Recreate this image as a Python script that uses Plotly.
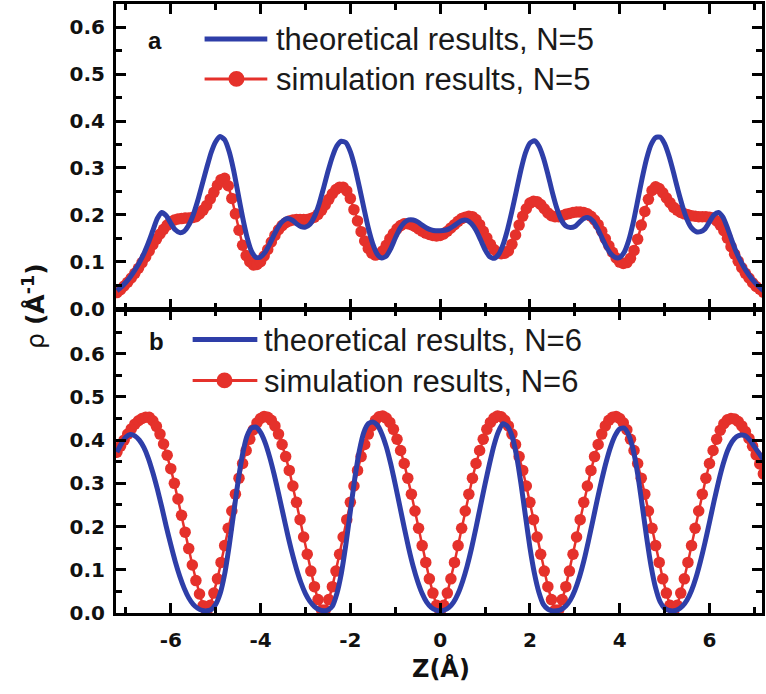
import plotly.graph_objects as go

# ---------------- data ----------------
z_theory = [round(-7.2 + 0.1 * i, 2) for i in range(145)]   # Z (Å), theory curves
z_sim = [round(-7.2 + 0.08 * i, 2) for i in range(181)]     # Z (Å), simulation points

rho_theory_N5 = [
    0.038, 0.046, 0.056, 0.068, 0.082, 0.098, 0.117, 0.140, 0.166, 0.192,
    0.205, 0.198, 0.182, 0.168, 0.162, 0.165, 0.178, 0.200, 0.230, 0.265,
    0.300, 0.333, 0.356, 0.367, 0.360, 0.335, 0.295, 0.245, 0.195, 0.152,
    0.122, 0.109, 0.110, 0.120, 0.137, 0.157, 0.175, 0.187, 0.192, 0.189,
    0.181, 0.175, 0.174, 0.180, 0.196, 0.222, 0.256, 0.292, 0.324, 0.347,
    0.357, 0.354, 0.335, 0.302, 0.260, 0.215, 0.172, 0.138, 0.116, 0.108,
    0.112, 0.128, 0.150, 0.170, 0.183, 0.189, 0.189, 0.185, 0.178, 0.172,
    0.168, 0.166, 0.166, 0.167, 0.170, 0.176, 0.183, 0.188, 0.188, 0.181,
    0.167, 0.147, 0.126, 0.111, 0.107, 0.115, 0.136, 0.168, 0.208, 0.252,
    0.296, 0.332, 0.353, 0.358, 0.347, 0.322, 0.287, 0.248, 0.214, 0.189,
    0.176, 0.173, 0.175, 0.184, 0.192, 0.194, 0.187, 0.172, 0.152, 0.132,
    0.117, 0.109, 0.109, 0.120, 0.145, 0.183, 0.230, 0.278, 0.320, 0.350,
    0.365, 0.366, 0.352, 0.325, 0.290, 0.252, 0.218, 0.190, 0.172, 0.164,
    0.164, 0.170, 0.185, 0.200, 0.205, 0.195, 0.172, 0.145, 0.120, 0.100,
    0.083, 0.069, 0.057, 0.047, 0.038,
]

rho_sim_N5 = [
    0.034, 0.040, 0.048, 0.056, 0.065, 0.075, 0.086, 0.098, 0.110, 0.123,
    0.136, 0.148, 0.159, 0.169, 0.178, 0.185, 0.189, 0.191, 0.192, 0.193,
    0.193, 0.194, 0.196, 0.202, 0.210, 0.220, 0.234, 0.248, 0.263, 0.275,
    0.278, 0.262, 0.235, 0.202, 0.167, 0.135, 0.113, 0.100, 0.093, 0.094,
    0.100, 0.112, 0.126, 0.142, 0.156, 0.168, 0.177, 0.183, 0.187, 0.189,
    0.190, 0.190, 0.190, 0.190, 0.192, 0.195, 0.201, 0.210, 0.221, 0.233,
    0.245, 0.254, 0.259, 0.259, 0.251, 0.235, 0.211, 0.187, 0.164, 0.144,
    0.128, 0.118, 0.114, 0.116, 0.123, 0.135, 0.149, 0.160, 0.170, 0.177,
    0.181, 0.181, 0.179, 0.175, 0.170, 0.165, 0.161, 0.158, 0.156, 0.155,
    0.156, 0.159, 0.165, 0.172, 0.179, 0.186, 0.192, 0.195, 0.197, 0.196,
    0.190, 0.179, 0.165, 0.151, 0.137, 0.126, 0.120, 0.117, 0.118, 0.123,
    0.137, 0.157, 0.178, 0.197, 0.213, 0.225, 0.229, 0.228, 0.222, 0.213,
    0.204, 0.198, 0.196, 0.196, 0.198, 0.201, 0.203, 0.205, 0.206, 0.206,
    0.205, 0.202, 0.197, 0.189, 0.179, 0.165, 0.149, 0.134, 0.120, 0.108,
    0.099, 0.096, 0.098, 0.107, 0.124, 0.148, 0.178, 0.207, 0.233, 0.252,
    0.260, 0.256, 0.247, 0.236, 0.226, 0.216, 0.210, 0.205, 0.202, 0.200,
    0.198, 0.197, 0.196, 0.196, 0.196, 0.195, 0.193, 0.187, 0.178, 0.166,
    0.150, 0.132, 0.116, 0.101, 0.087, 0.075, 0.065, 0.055, 0.047, 0.041,
    0.035,
]

rho_theory_N6 = [
    0.372, 0.392, 0.407, 0.413, 0.410, 0.400, 0.383, 0.358, 0.325, 0.287,
    0.245, 0.200, 0.158, 0.119, 0.085, 0.057, 0.035, 0.020, 0.011, 0.006,
    0.005, 0.008, 0.020, 0.045, 0.090, 0.155, 0.230, 0.305, 0.368, 0.410,
    0.428, 0.430, 0.418, 0.395, 0.362, 0.322, 0.277, 0.230, 0.183, 0.140,
    0.102, 0.070, 0.045, 0.027, 0.015, 0.008, 0.005, 0.007, 0.016, 0.045,
    0.092, 0.158, 0.235, 0.312, 0.375, 0.418, 0.438, 0.442, 0.435, 0.415,
    0.385, 0.345, 0.298, 0.248, 0.198, 0.150, 0.108, 0.073, 0.045, 0.025,
    0.013, 0.007, 0.005, 0.007, 0.013, 0.025, 0.045, 0.073, 0.108, 0.150,
    0.198, 0.248, 0.298, 0.345, 0.388, 0.420, 0.438, 0.432, 0.410, 0.365,
    0.300, 0.225, 0.152, 0.092, 0.048, 0.020, 0.009, 0.005, 0.005, 0.008,
    0.016, 0.030, 0.052, 0.082, 0.120, 0.165, 0.213, 0.262, 0.308, 0.350,
    0.385, 0.411, 0.426, 0.428, 0.412, 0.378, 0.322, 0.250, 0.175, 0.108,
    0.058, 0.026, 0.011, 0.006, 0.005, 0.008, 0.016, 0.030, 0.052, 0.082,
    0.120, 0.163, 0.210, 0.258, 0.303, 0.343, 0.375, 0.396, 0.408, 0.412,
    0.410, 0.400, 0.385, 0.370, 0.355,
]

rho_sim_N6 = [
    # -7.20 .. -5.20
    0.372, 0.386, 0.400, 0.414, 0.426, 0.437, 0.445, 0.450, 0.453, 0.453,
    0.445, 0.432, 0.414, 0.391, 0.365, 0.334, 0.300, 0.264, 0.226, 0.187,
    0.149, 0.111, 0.075, 0.044, 0.017, 0.000,
    # -5.12 .. -2.64
    0.018, 0.046, 0.079, 0.117, 0.156, 0.196, 0.236, 0.275, 0.312, 0.346,
    0.376, 0.402, 0.424, 0.440, 0.450, 0.455,
    0.453, 0.446, 0.433, 0.414, 0.390, 0.362, 0.330, 0.294, 0.256, 0.216,
    0.176, 0.136, 0.097, 0.061, 0.031, 0.007,
    # -2.56 .. 0.00
    0.007, 0.031, 0.061, 0.097, 0.136, 0.176, 0.216, 0.256, 0.294, 0.330,
    0.362, 0.390, 0.414, 0.433, 0.446, 0.454,
    0.456, 0.451, 0.441, 0.425, 0.402, 0.376, 0.346, 0.312, 0.275, 0.236,
    0.196, 0.156, 0.117, 0.079, 0.046, 0.018, 0.000,
    # 0.08 .. 2.56
    0.018, 0.046, 0.079, 0.117, 0.156, 0.196, 0.236, 0.275, 0.312, 0.346,
    0.376, 0.402, 0.425, 0.441, 0.451, 0.456,
    0.454, 0.446, 0.433, 0.414, 0.390, 0.362, 0.330, 0.294, 0.256, 0.216,
    0.176, 0.136, 0.097, 0.061, 0.031, 0.007,
    # 2.64 .. 5.20
    0.007, 0.031, 0.061, 0.097, 0.136, 0.176, 0.216, 0.256, 0.294, 0.330,
    0.362, 0.390, 0.414, 0.433, 0.446, 0.453,
    0.455, 0.450, 0.440, 0.424, 0.402, 0.376, 0.346, 0.312, 0.275, 0.236,
    0.196, 0.156, 0.117, 0.079, 0.046, 0.018, 0.000,
    # 5.28 .. 7.20
    0.018, 0.046, 0.079, 0.117, 0.156, 0.196, 0.236, 0.275, 0.312, 0.346,
    0.376, 0.402, 0.423, 0.438, 0.447, 0.450,
    0.449, 0.443, 0.433, 0.420, 0.404, 0.386, 0.366, 0.345, 0.322,
]

assert len(rho_sim_N5) == len(z_sim) and len(rho_sim_N6) == len(z_sim)
assert len(rho_theory_N5) == len(z_theory) and len(rho_theory_N6) == len(z_theory)

x_tickvals = [-6, -4, -2, 0, 2, 4, 6]
x_ticktext = ["-6", "-4", "-2", "0", "2", "4", "6"]
y_tickvals = [0.0, 0.1, 0.2, 0.3, 0.4, 0.5, 0.6]
y_ticktext = ["0.0", "0.1", "0.2", "0.3", "0.4", "0.5", "0.6"]

legend_a = ["theoretical results, N=5", "simulation results, N=5"]
legend_b = ["theoretical results, N=6", "simulation results, N=6"]

# ---------------- style ----------------
BLUE = "#2e3ea8"
RED = "#e5312b"
W, H = 766, 694
L, R, T, B = 116, 1, 3, 81
PW, PH = W - L - R, H - T - B

def px_x(px):
    return (px - L) / PW

def px_y(py):
    return (H - B - py) / PH

fig = go.Figure()

sim_line = dict(color=RED, width=2.5)
sim_marker = dict(color=RED, size=11.5, line=dict(width=0))
th_line = dict(color=BLUE, width=5, shape="spline", smoothing=0.6)

# panel a (top)
fig.add_trace(go.Scatter(x=z_sim, y=rho_sim_N5, name=legend_a[1], mode="lines+markers",
                         line=sim_line, marker=sim_marker,
                         xaxis="x", yaxis="y", showlegend=False))
fig.add_trace(go.Scatter(x=z_theory, y=rho_theory_N5, name=legend_a[0], mode="lines",
                         line=th_line, xaxis="x", yaxis="y", showlegend=False))
# panel b (bottom)
fig.add_trace(go.Scatter(x=z_sim, y=rho_sim_N6, name=legend_b[1], mode="lines+markers",
                         line=sim_line, marker=sim_marker,
                         xaxis="x2", yaxis="y2", showlegend=False))
fig.add_trace(go.Scatter(x=z_theory, y=rho_theory_N6, name=legend_b[0], mode="lines",
                         line=th_line, xaxis="x2", yaxis="y2", showlegend=False))

tickfont = dict(family="DejaVu Sans", size=20, color="#111111", weight="bold")
common_axis = dict(showline=True, linecolor="black", linewidth=3, mirror="ticks",
                   ticks="inside", ticklen=10, tickwidth=2.5, tickcolor="black",
                   showgrid=False, zeroline=False, tickfont=tickfont)
minor_style = dict(ticks="inside", ticklen=6, tickwidth=2.5, tickcolor="black")
xr = [-7.22, 7.17]

fig.update_layout(
    width=W, height=H,
    margin=dict(l=L, r=R, t=T, b=B),
    paper_bgcolor="white", plot_bgcolor="white",
    xaxis=dict(domain=[0, 1], anchor="y", range=xr, tickmode="array",
               tickvals=x_tickvals, ticktext=x_ticktext, showticklabels=False,
               minor=dict(dtick=1, tick0=0, **minor_style),
               **common_axis),
    yaxis=dict(domain=[px_y(308), 1], anchor="x", range=[0, 0.65], tickmode="array",
               tickvals=y_tickvals, ticktext=y_ticktext, ticklabelstandoff=4,
               minor=dict(dtick=0.05, tick0=0, **minor_style),
               **common_axis),
    xaxis2=dict(domain=[0, 1], anchor="y2", range=xr, tickmode="array",
                tickvals=x_tickvals, ticktext=x_ticktext, ticklabelstandoff=7,
                minor=dict(dtick=1, tick0=0, **minor_style),
                **common_axis),
    yaxis2=dict(domain=[0, px_y(310)], anchor="x2", range=[0, 0.7], tickmode="array",
                tickvals=y_tickvals, ticktext=y_ticktext, ticklabelstandoff=4,
                minor=dict(dtick=0.05, tick0=0, **minor_style),
                **common_axis),
)

legfont = dict(family="Liberation Sans, Arial", size=31, color="#1a1a1a")
shapes = []
annotations = []

def add_legend(x0, x1, y_line1, y_line2, xtext, labels, mx):
    shapes.append(dict(type="line", xref="paper", yref="paper",
                       x0=px_x(x0), x1=px_x(x1), y0=px_y(y_line1), y1=px_y(y_line1),
                       line=dict(color=BLUE, width=5)))
    shapes.append(dict(type="line", xref="paper", yref="paper",
                       x0=px_x(x0), x1=px_x(x1), y0=px_y(y_line2), y1=px_y(y_line2),
                       line=dict(color=RED, width=3)))
    r = 8
    shapes.append(dict(type="circle", xref="paper", yref="paper",
                       x0=px_x(mx - r), x1=px_x(mx + r),
                       y0=px_y(y_line2 + r), y1=px_y(y_line2 - r),
                       fillcolor=RED, line=dict(width=0)))
    for lab, yy in zip(labels, [y_line1, y_line2]):
        annotations.append(dict(text=lab, xref="paper", yref="paper",
                                x=px_x(xtext), y=px_y(yy + 1), xanchor="left",
                                yanchor="middle", showarrow=False, font=legfont))

add_legend(205, 268, 38, 78, 275, legend_a, 237)
add_legend(193, 258, 339, 380, 263, legend_b, 225)

panel_font = dict(family="Liberation Sans, Arial", size=24, color="#111111", weight="bold")
annotations.append(dict(text="a", xref="paper", yref="paper", x=px_x(155), y=px_y(40),
                        showarrow=False, font=panel_font, xanchor="center", yanchor="middle"))
annotations.append(dict(text="b", xref="paper", yref="paper", x=px_x(157), y=px_y(341),
                        showarrow=False, font=panel_font, xanchor="center", yanchor="middle"))

annotations.append(dict(text="ρ <b>(Å<sup>-1</sup>)</b>", xref="paper", yref="paper",
                        x=px_x(34), y=px_y(305), textangle=-90, showarrow=False,
                        xanchor="center", yanchor="middle",
                        font=dict(family="DejaVu Sans", size=25, color="#111111")))
annotations.append(dict(text="<b>Z(Å)</b>", xref="paper", yref="paper",
                        x=px_x(443), y=px_y(669), showarrow=False,
                        xanchor="center", yanchor="middle",
                        font=dict(family="DejaVu Sans", size=24, color="#111111")))

fig.update_layout(shapes=shapes, annotations=annotations)
fig.write_html("out.html")
